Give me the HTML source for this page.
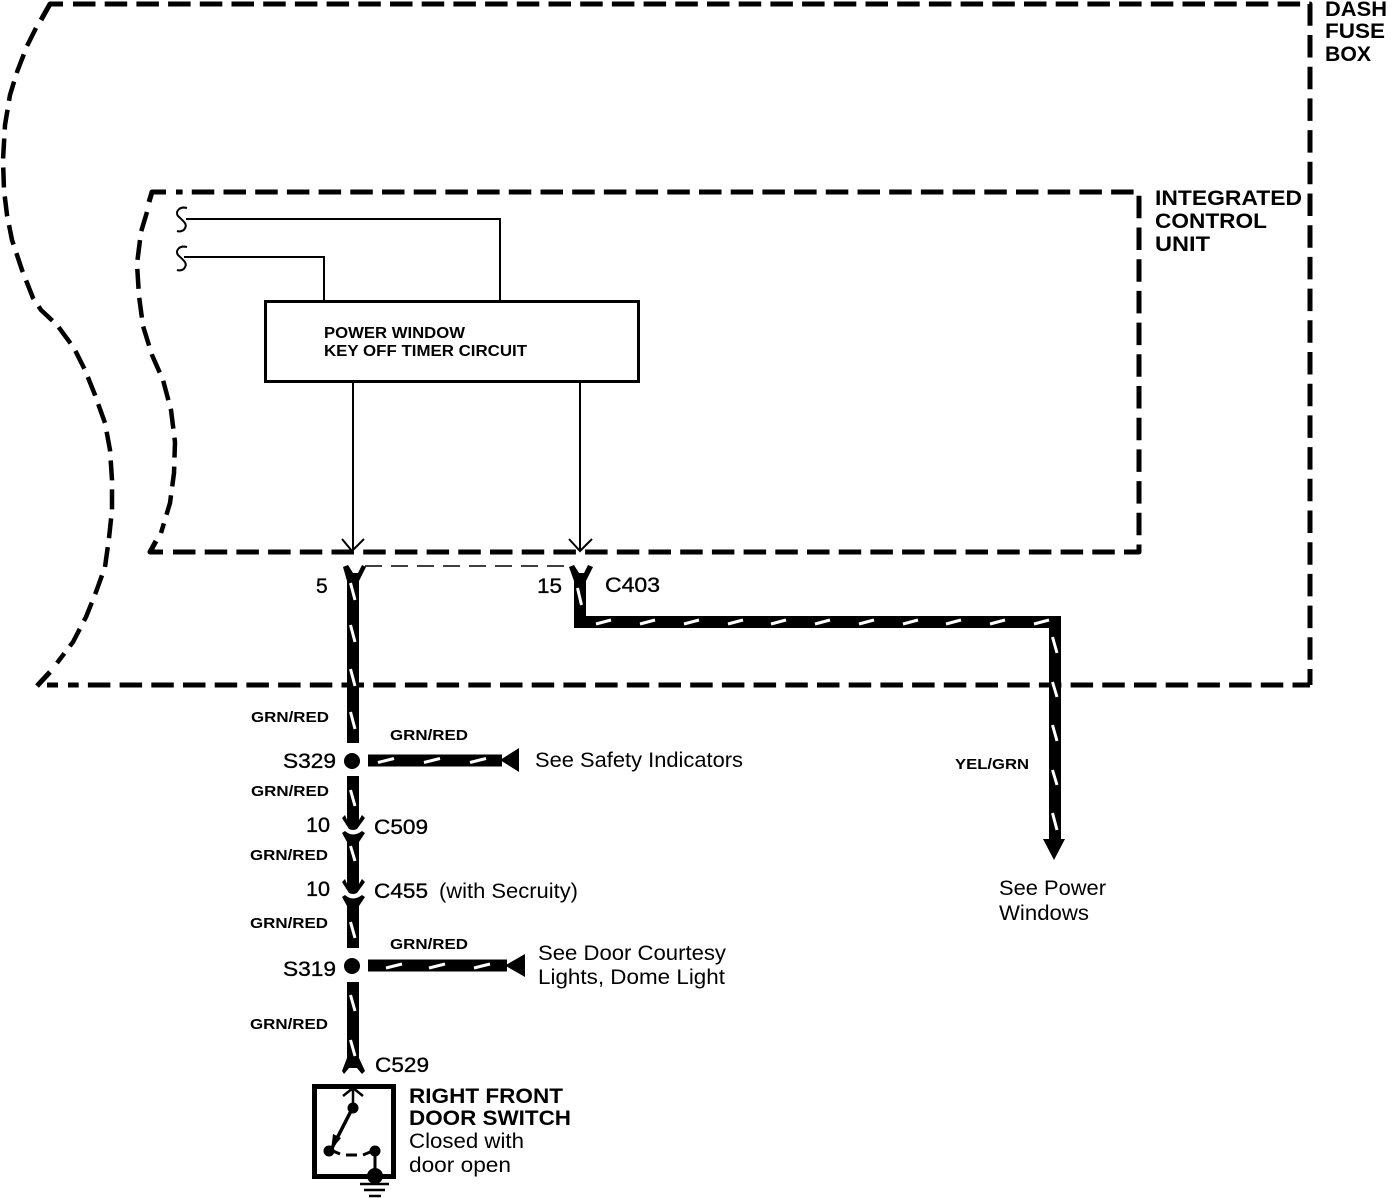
<!DOCTYPE html>
<html><head><meta charset="utf-8"><style>
html,body{margin:0;padding:0;background:#fff}
svg{display:block}
text{font-family:"Liberation Sans",sans-serif;fill:#000}
.r text{stroke:#000;stroke-width:.35px}
</style></head><body>
<svg width="1392" height="1198" viewBox="0 0 1392 1198" xmlns="http://www.w3.org/2000/svg">
<g fill="none" stroke="#000" stroke-width="5" stroke-linejoin="round">
<g stroke-dasharray="22.500 9.200">
<path d="M73 4H1310V685"/>
<path d="M1310 685H68" stroke-dashoffset="5"/>
<path d="M173 552H1139V192H176"/>
</g>
<path d="M63 4H50L41 20M58 685H47M166 192H152L149 202M163 552H150L156 541M37 686L50 672"/>
<path stroke-width="4.500" stroke-dasharray="20 9" d="M36 28L27 46L17 72L10 95L5 125L3 160L4 190L7 215L12 240L22 270L33 298L41 310L57 325L74 348L85 370L95 395L105 423L110 450L112 480L112 510L109 538L105 567L96 592L86 617L73 642L57 663"/>
<path stroke-width="4.500" stroke-dasharray="20 9" d="M147 212L141 232L137 264L139 296L143 326L152 355L163 380L171 410L175 442L174 473L170 503L161 533"/>
</g>
<path d="M365 566H570" fill="none" stroke="#000" stroke-width="1.500" stroke-dasharray="17 9"/>
<g fill="none" stroke="#000" stroke-width="2">
<path d="M186 219H500V300M187 208C179 206 175 212 178 216C182 220 188 224 185 228C184 231 180 232 177 231"/>
<path d="M184 257H324V300M187 247C179 245 175 251 178 255C182 259 188 263 185 267C184 270 180 271 177 270"/>
<path d="M353 382V551M342 539L352 551L364 539M580 382V551M569 539L580 551L592 539"/>
</g>
<rect x="265.500" y="301.500" width="373" height="80" fill="#fff" stroke="#000" stroke-width="3"/>
<text x="324" y="338" font-weight="bold" font-size="15.500" textLength="141" lengthAdjust="spacingAndGlyphs">POWER WINDOW</text>
<text x="324" y="356" font-weight="bold" font-size="15.500" textLength="203" lengthAdjust="spacingAndGlyphs">KEY OFF TIMER CIRCUIT</text>
<g font-size="21" font-weight="bold">
<text x="1325" y="16" textLength="62" lengthAdjust="spacingAndGlyphs">DASH</text>
<text x="1325" y="38" textLength="60" lengthAdjust="spacingAndGlyphs">FUSE</text>
<text x="1325" y="61" textLength="46" lengthAdjust="spacingAndGlyphs">BOX</text>
<text x="1155" y="205" textLength="147" lengthAdjust="spacingAndGlyphs">INTEGRATED</text>
<text x="1155" y="228" textLength="112" lengthAdjust="spacingAndGlyphs">CONTROL</text>
<text x="1155" y="251" textLength="55" lengthAdjust="spacingAndGlyphs">UNIT</text>
</g>
<g fill="none" stroke="#000" stroke-width="12">
<path d="M353 576V743M353 776V820M353 840V884M353 904V948M353 982V1064"/>
<path d="M580 576V622H1055V840"/>
<path d="M368 760.500H502M368 965.500H507"/>
</g>
<g fill="#000">
<path d="M343 567L348 565L353 573L358 573L362 565L366 567L359 581H347Z"/>
<path d="M569 567L574 565L579 573L584 573L588 565L593 567L586 581H574Z"/>
<path d="M342 818L345 815L347 820H359L362 815L365 818L357 829Q353 831 349 829Z"/>
<path d="M342 833L345 831Q353 838 362 831L365 833L359 842H347Z"/>
<path d="M342 882L345 879L347 884H359L362 879L365 882L357 893Q353 895 349 893Z"/>
<path d="M342 897L345 895Q353 902 362 895L365 897L359 906H347Z"/>
<path d="M347 1058L342 1071L344 1074L349 1068H357L362 1074L365 1071L359 1058Z"/>
<circle cx="352" cy="761" r="8"/><circle cx="352" cy="966" r="8"/>
<path d="M519 748V772L500 760ZM525 954V977L505 965.500ZM1043 839H1065L1054 860Z"/>
</g>
<g stroke="#fff" stroke-width="3" fill="none">
<path d="M350.500 583L355 600M350.500 625L355 642M350.500 669L355 686M350.500 712L355 729M350.500 790L355 806M350.500 846L355 861M350.500 922L355 938M350.500 995L355 1011M350.500 1040L355 1056"/>
<path d="M577.500 588L581.500 605M1052.500 637L1057 653M1052.500 682L1057 697M1052.500 725L1057 741M1052.500 770L1057 785M1052.500 813L1057 830"/>
<path d="M596 624L611 620M640 624L655 620M684 624L699 620M728 624L743 620M771 624L786 620M815 624L830 620M859 624L874 620M903 624L918 620M946 624L961 620M990 624L1005 620M1034 624L1049 620"/>
<path d="M378 762.500L394 758.500M424 762.500L440 758.500M470 762.500L486 758.500M386 968L402 964M429 968L445 964M474 968L490 964"/>
</g>
<g font-size="15" font-weight="bold">
<text x="251" y="722" textLength="78" lengthAdjust="spacingAndGlyphs">GRN/RED</text>
<text x="390" y="740" textLength="78" lengthAdjust="spacingAndGlyphs">GRN/RED</text>
<text x="251" y="796" textLength="78" lengthAdjust="spacingAndGlyphs">GRN/RED</text>
<text x="250" y="860" textLength="78" lengthAdjust="spacingAndGlyphs">GRN/RED</text>
<text x="250" y="928" textLength="78" lengthAdjust="spacingAndGlyphs">GRN/RED</text>
<text x="390" y="949" textLength="78" lengthAdjust="spacingAndGlyphs">GRN/RED</text>
<text x="250" y="1029" textLength="78" lengthAdjust="spacingAndGlyphs">GRN/RED</text>
<text x="955" y="769" textLength="74" lengthAdjust="spacingAndGlyphs">YEL/GRN</text>
</g>
<g font-size="21" class="r">
<text x="316" y="593">5</text>
<text x="537" y="593" textLength="25" lengthAdjust="spacingAndGlyphs">15</text>
<text x="605" y="592" textLength="55" lengthAdjust="spacingAndGlyphs">C403</text>
<text x="283" y="768" textLength="53" lengthAdjust="spacingAndGlyphs">S329</text>
<text x="283" y="976" textLength="53" lengthAdjust="spacingAndGlyphs">S319</text>
<text x="306" y="832" textLength="24" lengthAdjust="spacingAndGlyphs">10</text>
<text x="306" y="896" textLength="24" lengthAdjust="spacingAndGlyphs">10</text>
<text x="374" y="834" textLength="54" lengthAdjust="spacingAndGlyphs">C509</text>
<text x="374" y="898" textLength="54" lengthAdjust="spacingAndGlyphs">C455</text>
<text x="375" y="1072" textLength="54" lengthAdjust="spacingAndGlyphs">C529</text>
</g>
<g font-size="21">
<text x="439" y="898" textLength="139" lengthAdjust="spacingAndGlyphs">(with Secruity)</text>
<text x="535" y="767" textLength="208" lengthAdjust="spacingAndGlyphs">See Safety Indicators</text>
<text x="538" y="960" textLength="188" lengthAdjust="spacingAndGlyphs">See Door Courtesy</text>
<text x="538" y="984" textLength="187" lengthAdjust="spacingAndGlyphs">Lights, Dome Light</text>
<text x="999" y="895" textLength="107" lengthAdjust="spacingAndGlyphs">See Power</text>
<text x="999" y="920" textLength="90" lengthAdjust="spacingAndGlyphs">Windows</text>
<text x="409" y="1103" textLength="154" lengthAdjust="spacingAndGlyphs" font-weight="bold">RIGHT FRONT</text>
<text x="409" y="1125" textLength="162" lengthAdjust="spacingAndGlyphs" font-weight="bold">DOOR SWITCH</text>
<text x="409" y="1148" textLength="115" lengthAdjust="spacingAndGlyphs">Closed with</text>
<text x="409" y="1172" textLength="102" lengthAdjust="spacingAndGlyphs">door open</text>
</g>
<rect x="314.500" y="1086.500" width="79" height="90" fill="none" stroke="#000" stroke-width="5"/>
<g fill="none" stroke="#000" stroke-width="2.500">
<path d="M353 1108V1090M343 1096L353 1088L363 1096"/>
<path d="M352 1109L331 1150" stroke-width="3.500"/>
<path d="M333 1151L340 1154M346 1155H357M363 1155L375 1150" stroke-width="3"/>
<path d="M375 1150V1175" stroke-width="3"/>
<path d="M360 1184H389M364 1190H385M369 1196H381" stroke-width="2.500"/>
</g>
<g fill="#000">
<circle cx="353" cy="1108" r="5.500"/><circle cx="329" cy="1151" r="5.500"/><circle cx="375" cy="1151" r="5.500"/><circle cx="375" cy="1176" r="8"/>
<path d="M333 1134L341 1138L331 1150Z"/>
</g>
</svg>
</body></html>
